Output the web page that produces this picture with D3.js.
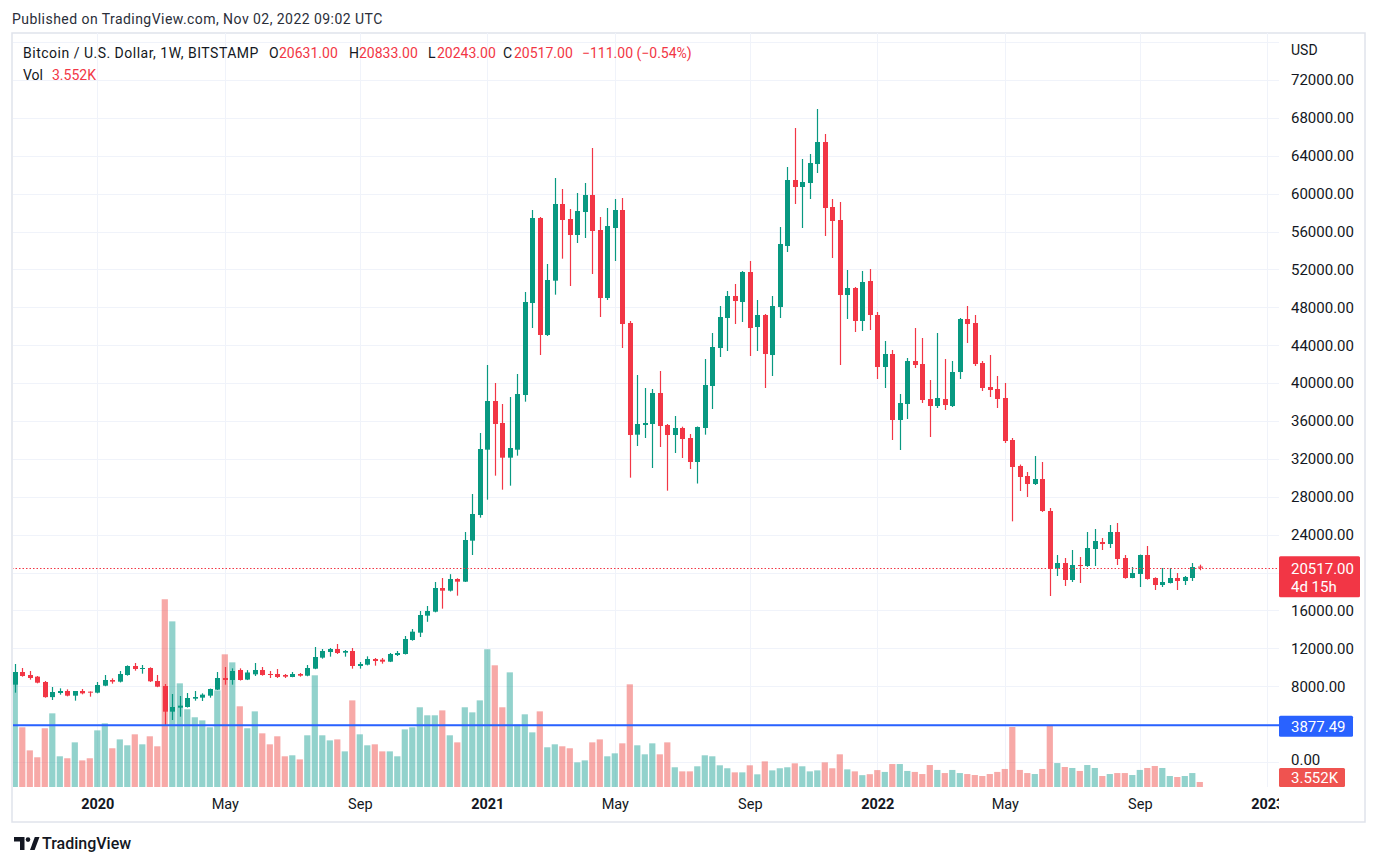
<!DOCTYPE html>
<html><head><meta charset="utf-8">
<script src="https://cdn.jsdelivr.net/npm/d3@7/dist/d3.min.js"></script>
<style>
html,body{margin:0;padding:0;background:#fff;}
svg text{font-family:Roboto,"Noto Sans",sans-serif;}
</style></head>
<body>
<svg id="c" width="1379" height="866"></svg>
<script>
// ---- data (weekly candles, BITSTAMP BTCUSD, weeks starting 2019-10-21) ----
const firstWeek = "2019-10-21";
const lastWeek = "2022-10-31";
const open = [8164,9501,9185,9009,8446,6850,7284,7496,7003,7496,7425,7320,8058,8657,8481,9185,10135,9818,9924,8551,
8023,5314,5736,5806,6686,6792,7003,7636,8868,8657,9713,8700,9255,9713,9290,9290,9185,8973,9290,9114,
9853,11015,11612,11929,11542,11718,10135,10275,10874,10803,10592,11296,11401,12880,13654,15448,15870,18369,18088,19320,
19038,23366,26076,32972,38110,35788,32128,32972,38744,48456,57430,45079,50815,58909,57325,55636,58064,59859,56163,48984,
56374,58275,46346,34556,35577,35682,38955,35577,34521,35260,34204,31671,35260,39694,43706,46874,49196,48562,51729,45923,
47190,42966,48034,54475,61442,60703,61125,63130,65453,58592,57219,49301,50040,46557,50779,47190,41700,43072,36105,37794,
42333,42016,38321,37583,38321,37583,41172,46768,46346,42122,39588,39377,38427,33993,31249,30193,29348,29876,26498,20445,
21008,19214,20797,20692,22486,23226,23014,24281,21536,19425,19847,21853,19425,18686,18897,19425,19108,19425,20631];
const high = [10346,9924,9607,9079,8551,7918,7777,7671,7496,7707,7450,8446,9185,8833,9607,10200,10451,10240,9994,9185,
8234,7179,6968,7284,7496,7249,7750,9501,10029,9888,9888,9700,10451,10029,9607,9818,9290,9501,9396,10240,
12141,11929,12035,12457,11824,12035,10557,11155,10979,10979,11507,11718,13302,14041,15941,16469,19003,19425,19830,19400,
24281,28292,34732,41911,40010,37794,38532,40960,49618,58275,57536,52574,61653,60491,58381,60069,61126,64821,57536,58486,
59437,59543,46557,40854,39483,39377,41278,35682,36527,35400,34627,35420,42544,45290,48140,49724,50463,51834,52890,48773,
47296,49196,56480,62815,66931,63659,64186,68937,66297,59437,59121,51940,50146,51834,52046,47507,44445,43494,38849,42650,
45817,44761,40327,45290,42544,42333,46874,48140,47190,42333,42966,40749,40010,34204,31400,30615,32304,31671,26815,21853,
21536,22381,21642,24281,24598,23648,25020,25231,21853,20586,21900,22803,19500,20480,20480,19953,19636,21008,20833];
const low = [7320,9009,8692,8305,6790,6545,7108,6933,6475,7144,6897,7250,8000,8270,8400,9114,9642,9325,8450,7900,
3836,4434,4786,5750,6475,6440,6792,7600,8164,8164,8600,8650,9079,9114,8868,8868,8868,8950,9009,9050,
9800,10909,11120,11401,11120,9853,9853,10200,10170,10381,10550,11190,11350,12809,13196,14800,15800,16188,18000,17560,
19000,21853,25794,27694,30228,28750,29172,32339,38040,45817,42968,44973,49336,53137,50252,54791,55319,51518,46979,48773,
52890,43706,30017,33360,34204,31038,33254,28644,32621,32093,30932,29400,34556,37266,42755,43389,46240,46452,42861,43389,
39483,40749,46874,53840,58909,56374,59437,62181,55530,53207,41911,46768,45395,45501,45606,40433,39483,33993,32937,36210,
41595,37900,34310,37372,37161,37477,40433,44234,41806,39166,38532,37372,33677,25407,28609,27976,29243,26400,17525,19636,
18580,19003,18897,20600,20692,22381,22592,20797,19350,19400,18475,19250,18158,18475,18850,18158,18686,19108,20243];
const close = [9501,9079,8868,8375,6850,7390,7496,7003,7496,7249,7320,8129,8657,8481,9290,10135,9818,9924,8520,7953,
5314,5806,5947,6756,6862,7108,7707,8868,8657,9607,8657,9450,9713,9185,9185,8973,9009,9290,9114,9924,
11085,11718,11929,11507,11718,10135,10346,10874,10662,10592,11401,11507,12985,13759,15519,15941,18369,18088,19320,19038,
23437,26181,33043,38110,35682,32128,33148,38849,48562,57430,45079,50885,58909,57219,55636,58170,59859,56058,48984,56585,
58275,46240,34521,35682,35788,38955,35471,34521,35260,34099,31671,35366,39800,43812,46979,49196,48667,51729,45817,47190,
43072,48140,54686,61442,60703,61231,63236,65453,58486,57114,49301,50040,46557,50674,47190,41700,43072,36105,37900,42333,
41911,38216,37583,38427,37688,41172,46768,46240,42016,39483,39272,38322,33888,31143,30088,29348,29876,26498,20375,21008,
19214,20797,20692,22592,23331,23014,24281,21431,19425,19953,21853,19319,18686,19003,19425,19108,19530,20586,20517];
const volume = [81.4,42.4,26.0,21.1,41.7,52.3,21.8,20.4,31.7,18.9,20.4,40.2,45.2,27.5,33.8,29.6,37.4,30.3,36.0,28.9,
133.3,117.6,73.6,55.2,49.5,47.3,42.4,68.6,94.2,88.5,57.3,41.7,53.7,38.1,30.3,36.0,21.8,22.5,19.6,36.7,
79.3,36.7,33.1,33.8,25.3,61.5,37.4,29.6,30.3,25.3,25.3,21.8,40.9,42.4,56.6,50.9,50.9,54.4,36.7,31.7,
56.6,53.0,61.5,97.8,86.4,56.6,81.4,44.3,51.6,38.8,53.7,28.2,30.3,28.9,27.5,17.5,18.9,31.7,33.8,21.8,
23.9,31.0,72.9,29.6,23.2,31.0,23.2,31.7,14.0,11.1,11.1,14.7,22.5,21.8,15.4,13.3,10.4,10.4,15.4,9.0,
18.2,11.8,13.3,14.0,16.8,14.7,11.1,11.8,17.5,13.3,23.2,12.5,11.1,8.4,9.1,12.0,10.7,16.3,16.3,11.4,
10.7,9.2,15.6,12.1,9.9,12.1,9.9,9.2,8.5,7.8,9.2,10.7,12.8,42.6,12.1,9.9,9.2,12.8,44.0,17.0,
14.2,13.5,11.4,15.6,13.5,7.8,9.2,9.9,9.9,8.5,12.1,13.5,14.9,13.5,7.8,7.1,7.8,9.9,3.552];
const priceTicks = [0,8000,12000,16000,24000,28000,32000,36000,40000,44000,48000,52000,56000,60000,64000,68000,72000];
const gridPrices = [0,4000,8000,12000,16000,20000,24000,28000,32000,36000,40000,44000,48000,52000,56000,60000,64000,68000,72000,76000];
const timeTickDates = ["2020-01-06","2020-05-04","2020-09-07","2021-01-04","2021-05-03","2021-09-06","2022-01-03","2022-05-02","2022-09-05","2023-01-02"];
const timeTickLabels = ["2020","May","Sep","2021","May","Sep","2022","May","Sep","2023"];
const lastPrice = 20517;
const hLinePrice = 3877.49;

// ---- layout ----
const svg = d3.select("#c");
const P = {l:12, r:1279, t:33, b:787};
const parse = d3.utcParse("%Y-%m-%d");
const weeks = d3.utcMonday.range(parse(firstWeek), d3.utcDay.offset(parse(lastWeek),1));
const data = weeks.map((d,i)=>({d, o:open[i], h:high[i], l:low[i], c:close[i], v:volume[i]}));

const x = d3.scaleUtc().domain([parse(firstWeek), parse(lastWeek)]).range([14.8, 1199.8]);
const y = d3.scaleLinear().domain([0,72000]).range([762,80]);
const yv = d3.scaleLinear().domain([0,150]).range([P.b, P.b - 150/0.71]);

const UP = "#089981", DN = "#f23645";
const VUP = "rgba(38,166,154,0.5)", VDN = "rgba(239,83,80,0.5)";
const TXT = "#131722";

svg.append("defs").append("clipPath").attr("id","plot")
  .append("rect").attr("x",13).attr("y",P.t).attr("width",P.r-13).attr("height",P.b-P.t);
svg.select("defs").append("clipPath").attr("id","taxis")
  .append("rect").attr("x",13).attr("y",P.b).attr("width",P.r-13).attr("height",35);

// frame
svg.append("rect").attr("x",12).attr("y",33).attr("width",1353).attr("height",789)
  .attr("fill","none").attr("stroke","#e0e3eb").attr("stroke-width",1.5);

const plot = svg.append("g").attr("clip-path","url(#plot)");
// grid
plot.selectAll("line.hg").data(gridPrices).join("line")
  .attr("x1",P.l).attr("x2",P.r).attr("y1",d=>Math.round(y(d))+0.5).attr("y2",d=>Math.round(y(d))+0.5)
  .attr("stroke","#f0f3fa").attr("stroke-width",1);
plot.selectAll("line.vg").data(timeTickDates).join("line")
  .attr("x1",d=>Math.round(x(parse(d)))+0.5).attr("x2",d=>Math.round(x(parse(d)))+0.5)
  .attr("y1",P.t).attr("y2",P.b).attr("stroke","#f0f3fa").attr("stroke-width",1);

// volume
plot.selectAll("rect.vol").data(data).join("rect")
  .attr("x",d=>x(d.d)-3.1).attr("width",6.2)
  .attr("y",d=>yv(d.v)).attr("height",d=>P.b-yv(d.v))
  .attr("fill",d=>d.c>=d.o?VUP:VDN);

// candles
const cg = plot.selectAll("g.cd").data(data).join("g");
cg.append("line")
  .attr("x1",d=>Math.round(x(d.d))+0.5).attr("x2",d=>Math.round(x(d.d))+0.5)
  .attr("y1",d=>y(d.h)).attr("y2",d=>y(d.l))
  .attr("stroke",d=>d.c>=d.o?UP:DN).attr("stroke-width",1.2);
cg.append("rect")
  .attr("x",d=>Math.round(x(d.d))+0.5-2.5).attr("width",5)
  .attr("y",d=>y(Math.max(d.o,d.c))).attr("height",d=>Math.max(1,Math.abs(y(d.o)-y(d.c))))
  .attr("fill",d=>d.c>=d.o?UP:DN);

// horizontal line & last price line
plot.append("line").attr("x1",P.l).attr("x2",P.r).attr("y1",y(hLinePrice)).attr("y2",y(hLinePrice))
  .attr("stroke","#2962ff").attr("stroke-width",2);
plot.append("line").attr("x1",P.l).attr("x2",P.r).attr("y1",Math.round(y(lastPrice))+0.5).attr("y2",Math.round(y(lastPrice))+0.5)
  .attr("stroke",DN).attr("stroke-width",1).attr("stroke-dasharray","1.5 2");

// price axis
const ya = svg.append("g").attr("transform",`translate(${P.r},0)`)
  .call(d3.axisRight(y).tickValues(priceTicks).tickSize(0).tickPadding(12).tickFormat(d=>d.toFixed(2)));
ya.select(".domain").remove();
ya.selectAll("text").attr("fill",TXT).style("font-size","15px").style("font-family","Roboto, sans-serif")
  .attr("dy",d=>d===0?"0.15em":"0.32em");
svg.append("text").attr("x",1291).attr("y",55).text("USD").attr("fill",TXT).style("font-size","14px");

// time axis
const xa = svg.append("g").attr("clip-path","url(#taxis)").append("g").attr("transform",`translate(0,${P.b})`)
  .call(d3.axisBottom(x).tickValues(timeTickDates.map(parse)).tickSize(0).tickPadding(12)
    .tickFormat((d,i)=>timeTickLabels[i]));
xa.select(".domain").remove();
xa.selectAll("text").attr("fill",TXT).style("font-size","14.5px").style("font-family","Roboto, sans-serif")
  .style("font-weight",(d,i)=>/^\d{4}$/.test(timeTickLabels[i])?"700":"400");

// axis labels boxes
function box(yc, h, w, fill, lines){
  const g = svg.append("g");
  g.append("rect").attr("x",P.r).attr("y",yc-h/2).attr("width",w).attr("height",h).attr("fill",fill).attr("rx",1.5);
  lines.forEach((t,i)=>g.append("text").attr("x",1291).attr("y",t.y).attr("dy","0.35em").text(t.s)
    .attr("fill","#fff").style("font-size","15px"));
}
box(y(lastPrice)+9, 41, 81, DN, [{s:lastPrice.toFixed(2), y:y(lastPrice)+1},{s:"4d 15h", y:y(lastPrice)+19}]);
box(y(hLinePrice)+1, 21, 74, "#2962ff", [{s:hLinePrice.toFixed(2), y:y(hLinePrice)+1}]);
box(yv(volume[volume.length-1])-4.5, 19, 66, "#ef5350", [{s:"3.552K", y:yv(volume[volume.length-1])-4}]);

// header
svg.append("text").attr("x",12).attr("y",24).text("Published on TradingView.com, Nov 02, 2022 09:02 UTC")
  .attr("fill","#2a2e39").style("font-size","14px").style("letter-spacing","0.45px");
const leg = [
  {x:23,s:"Bitcoin / U.S. Dollar, 1W, BITSTAMP",c:TXT,ls:0.5},
  {x:269,s:"O",c:TXT},{x:279,s:open[open.length-1].toFixed(2),c:DN},
  {x:349,s:"H",c:TXT},{x:359,s:high[high.length-1].toFixed(2),c:DN},
  {x:428,s:"L",c:TXT},{x:437,s:low[low.length-1].toFixed(2),c:DN},
  {x:503,s:"C",c:TXT},{x:514,s:close[close.length-1].toFixed(2),c:DN},
  {x:582,s:"\u2212111.00 (\u22120.54%)",c:DN}
];
leg.forEach(t=>svg.append("text").attr("x",t.x).attr("y",58).text(t.s).attr("fill",t.c)
  .style("font-size","14px").style("letter-spacing",(t.ls||0)+"px"));
svg.append("text").attr("x",23).attr("y",80).text("Vol").attr("fill",TXT).style("font-size","14px");
svg.append("text").attr("x",52).attr("y",80).text("3.552K").attr("fill",DN).style("font-size","14px");

// footer logo
const lg = svg.append("g").attr("fill",TXT);
lg.append("path").attr("d","M14 837 h10.5 v13 h-4.5 v-8.5 h-6 z");
lg.append("circle").attr("cx",28).attr("cy",839.6).attr("r",2.3);
lg.append("path").attr("d","M30 850 L34.8 837 H39.5 L34.6 850 Z");
svg.append("text").attr("x",42).attr("y",849).text("TradingView").attr("fill",TXT)
  .style("font-size","16px").style("font-weight","500");
</script>
</body></html>
